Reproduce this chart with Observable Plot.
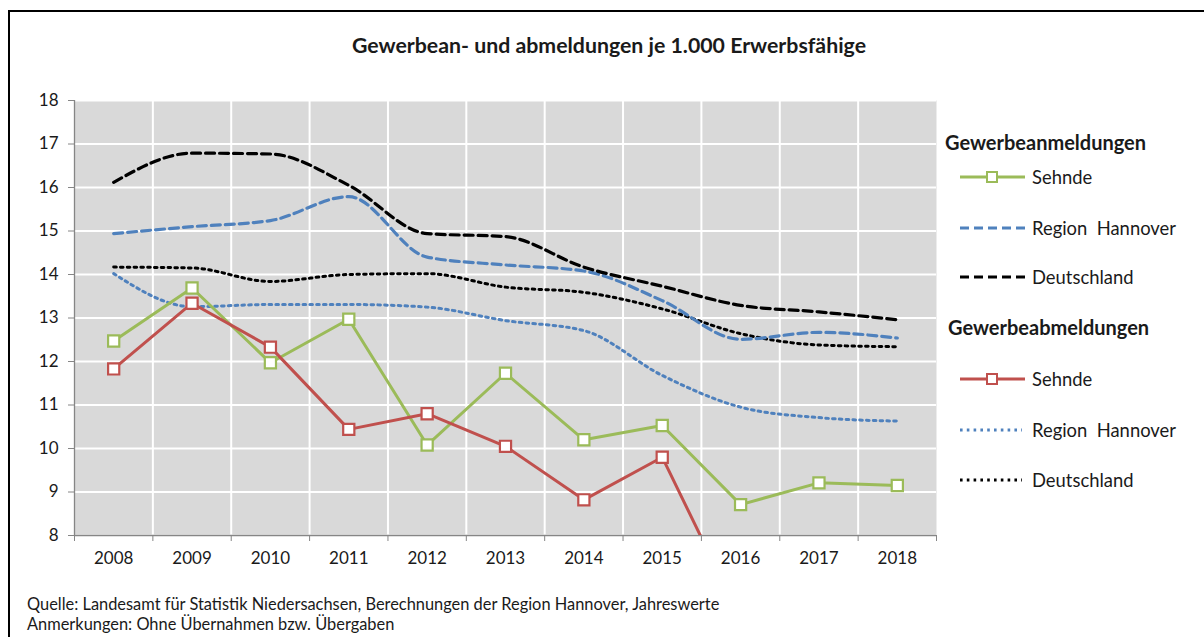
<!DOCTYPE html>
<html>
<head>
<meta charset="utf-8">
<script src="https://cdn.jsdelivr.net/npm/d3@7"></script>
<script src="https://cdn.jsdelivr.net/npm/@observablehq/plot@0.6"></script>
<style>
  html, body { margin: 0; padding: 0; background: #fff; }
  #wrap { position: relative; width: 1204px; height: 637px; overflow: hidden; font-family: Lato, "Open Sans", sans-serif; color: #1a1a1a; }
  #wrap > svg { position: absolute; left: 0; top: 0; }
  .frameL { position: absolute; left: 8px; top: 10px; width: 2px; height: 640px; background: #000; }
  .frameT { position: absolute; left: 8px; top: 10px; width: 1210px; height: 2px; background: #000; }
  .title { position: absolute; left: 0; width: 1218px; top: 32px; text-align: center; font-weight: bold; font-size: 21.3px; line-height: 26px; }
  .lgh { position: absolute; font-weight: bold; font-size: 20px; line-height: 22px; }
  .lgi { position: absolute; left: 960px; height: 22px; display: flex; align-items: center; font-size: 18.4px; }
  .lgi svg { margin-right: 7px; }
  .foot { position: absolute; left: 27px; font-size: 16.4px; line-height: 20px; white-space: nowrap; }
</style>
</head>
<body>
<div id="wrap"></div>
<script>
// ---- data ----
const years = [2008, 2009, 2010, 2011, 2012, 2013, 2014, 2015, 2016, 2017, 2018];
const yTicks = [8, 9, 10, 11, 12, 13, 14, 15, 16, 17, 18];

// Gewerbeanmeldungen je 1.000 Erwerbsfähige
const anmSehnde   = [12.47, 13.69, 11.97, 12.97, 10.08, 11.73, 10.20, 10.53, 8.71, 9.21, 9.15];
const anmRegion   = [14.94, 15.10, 15.24, 15.79, 14.40, 14.22, 14.08, 13.40, 12.51, 12.67, 12.54];
const anmDeutsch  = [16.12, 16.79, 16.77, 16.05, 14.94, 14.87, 14.17, 13.73, 13.29, 13.14, 12.96];

// Gewerbeabmeldungen je 1.000 Erwerbsfähige
const abmSehnde   = [11.83, 13.34, 12.33, 10.44, 10.80, 10.05, 8.82, 9.80, 6.1, null, null];
const abmRegion   = [14.02, 13.26, 13.31, 13.31, 13.25, 12.94, 12.71, 11.68, 10.95, 10.71, 10.63];
const abmDeutsch  = [14.17, 14.15, 13.84, 14.00, 14.02, 13.71, 13.59, 13.21, 12.64, 12.38, 12.34];

const titleText = "Gewerbean- und abmeldungen je 1.000 Erwerbsfähige";
const footLines = [
  "Quelle: Landesamt für Statistik Niedersachsen, Berechnungen der Region Hannover, Jahreswerte",
  "Anmerkungen: Ohne Übernahmen bzw. Übergaben"
];

// ---- derived ----
const xBounds = years.map(y => y - 0.5).concat([years[years.length - 1] + 0.5]);
const innerBounds = xBounds.slice(1, -1);
const rows = (vals) => years.map((y, i) => ({year: y, value: vals[i]}));

const C = {green: "#9bbb59", red: "#c0504d", blue: "#4f81bd", black: "#000"};
const DASH = "9,5";
const DOT = "2.6,4.2";

const chart = Plot.plot({
  width: 1204,
  height: 637,
  marginLeft: 74,
  marginRight: 268,
  marginTop: 100,
  marginBottom: 102,
  style: {fontFamily: "Lato, sans-serif", background: "transparent", color: "#1a1a1a"},
  x: {type: "linear", domain: [xBounds[0], xBounds[xBounds.length - 1]], axis: null, label: null},
  y: {domain: [yTicks[0], yTicks[yTicks.length - 1]], axis: null, label: null},
  marks: [
    Plot.frame({fill: "#d9d9d9", stroke: "none"}),
    Plot.gridY(yTicks, {stroke: "#fff", strokeOpacity: 1, strokeWidth: 2}),
    Plot.gridX(innerBounds, {stroke: "#fff", strokeOpacity: 1, strokeWidth: 2}),
    Plot.ruleX([xBounds[0]], {stroke: "#868686", strokeWidth: 1.3}),
    Plot.ruleY([yTicks[0]], {stroke: "#868686", strokeWidth: 1.3}),
    Plot.axisY(yTicks, {tickSize: 6, tickPadding: 10, stroke: "#868686", fill: "#1a1a1a", fontSize: 17, label: null, tickFormat: d => String(d)}),
    Plot.axisX(xBounds, {tickSize: 6, stroke: "#868686", label: null, tickFormat: () => ""}),
    Plot.axisX(years, {tickSize: 0, tickPadding: 16, fill: "#1a1a1a", fontSize: 17, label: null, tickFormat: d => String(d)}),

    // Abmeldungen dotted
    Plot.line(rows(abmRegion), {x: "year", y: "value", stroke: C.blue, strokeWidth: 3, strokeDasharray: DOT, curve: "monotone-x"}),
    Plot.line(rows(abmDeutsch), {x: "year", y: "value", stroke: C.black, strokeWidth: 3, strokeDasharray: DOT, curve: "monotone-x"}),
    // Anmeldungen dashed
    Plot.line(rows(anmRegion), {x: "year", y: "value", stroke: C.blue, strokeWidth: 3.2, strokeDasharray: DASH, curve: "monotone-x"}),
    Plot.line(rows(anmDeutsch), {x: "year", y: "value", stroke: C.black, strokeWidth: 3.2, strokeDasharray: DASH, curve: "monotone-x"}),
    // Sehnde
    Plot.line(rows(anmSehnde), {x: "year", y: "value", stroke: C.green, strokeWidth: 3, clip: true}),
    Plot.line(rows(abmSehnde), {x: "year", y: "value", stroke: C.red, strokeWidth: 3, clip: true}),
    Plot.dot(rows(anmSehnde), {x: "year", y: "value", symbol: "square", r: 6.3, fill: "#fff", stroke: C.green, strokeWidth: 2.2, clip: true}),
    Plot.dot(rows(abmSehnde).filter(d => d.value != null), {x: "year", y: "value", symbol: "square", r: 6.3, fill: "#fff", stroke: C.red, strokeWidth: 2.2, clip: true})
  ]
});

const wrap = document.getElementById("wrap");
wrap.appendChild(chart);

function add(cls, html, style) {
  const d = document.createElement("div");
  d.className = cls;
  d.innerHTML = html;
  Object.assign(d.style, style || {});
  wrap.appendChild(d);
  return d;
}
add("frameL", "");
add("frameT", "");
add("title", titleText);

function sample(kind, color) {
  let inner = "";
  if (kind === "marker") {
    inner = `<line x1="0" y1="11" x2="65" y2="11" stroke="${color}" stroke-width="3"/>` +
            `<rect x="27" y="6" width="10" height="10" fill="#fff" stroke="${color}" stroke-width="2"/>`;
  } else if (kind === "dash") {
    inner = `<line x1="0" y1="11" x2="65" y2="11" stroke="${color}" stroke-width="3.2" stroke-dasharray="${DASH}"/>`;
  } else {
    inner = `<line x1="0" y1="11" x2="62" y2="11" stroke="${color}" stroke-width="3" stroke-dasharray="${DOT}"/>`;
  }
  return `<svg width="65" height="22">${inner}</svg>`;
}

const legend = [
  {head: "Gewerbeanmeldungen", hx: 945, hy: 131, items: [
    {label: "Sehnde", kind: "marker", color: C.green, y: 166},
    {label: "Region&nbsp; Hannover", kind: "dash", color: C.blue, y: 217},
    {label: "Deutschland", kind: "dash", color: C.black, y: 266}
  ]},
  {head: "Gewerbeabmeldungen", hx: 948, hy: 316, items: [
    {label: "Sehnde", kind: "marker", color: C.red, y: 368},
    {label: "Region&nbsp; Hannover", kind: "dot", color: C.blue, y: 419},
    {label: "Deutschland", kind: "dot", color: C.black, y: 469}
  ]}
];
for (const g of legend) {
  add("lgh", g.head, {left: g.hx + "px", top: g.hy + "px"});
  for (const it of g.items) {
    add("lgi", sample(it.kind, it.color) + `<span>${it.label}</span>`, {top: it.y + "px"});
  }
}
footLines.forEach((t, i) => add("foot", t, {top: (594 + i * 20) + "px"}));
</script>
</body>
</html>
